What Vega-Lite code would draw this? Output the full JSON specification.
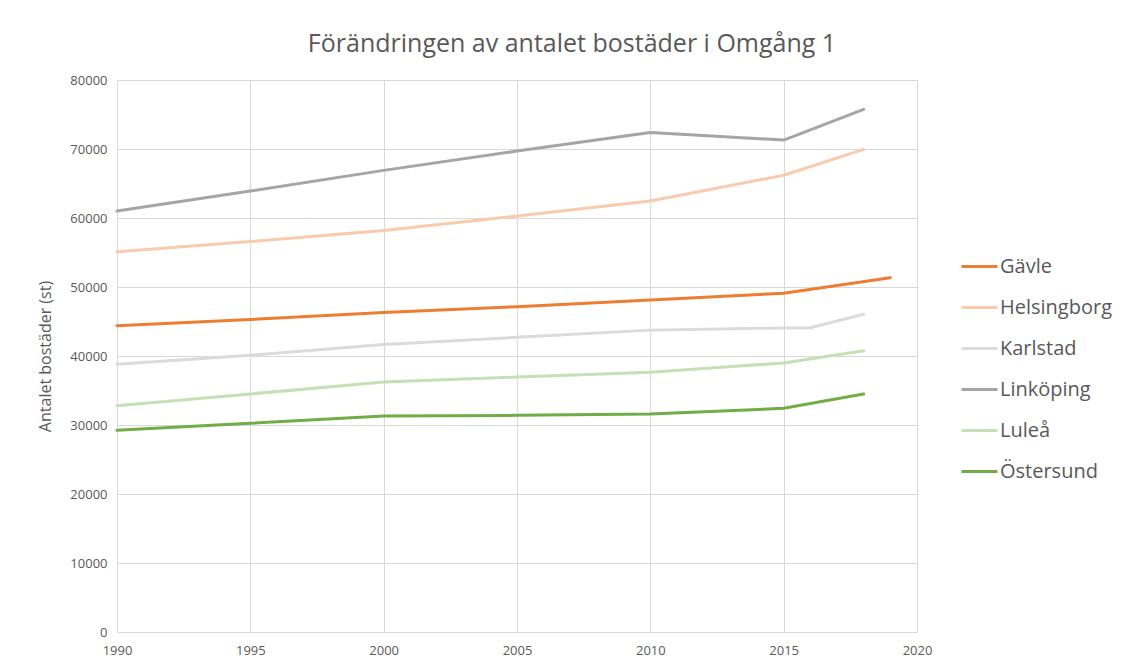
{
  "$schema": "https://vega.github.io/schema/vega-lite/v6.json",
  "autosize": "none",
  "width": 800,
  "height": 552,
  "padding": {"left": 117, "top": 80, "right": 212, "bottom": 36},
  "background": "white",
  "title": {
    "text": "Förändringen av antalet bostäder i Omgång 1",
    "font": "Open Sans",
    "fontSize": 25,
    "fontWeight": "normal",
    "color": "#595959",
    "anchor": "middle",
    "dx": 55,
    "offset": 17
  },
  "config": {
    "view": {"stroke": null},
    "axis": {
      "labelFont": "Open Sans",
      "labelFontSize": 13,
      "labelColor": "#595959",
      "gridColor": "#d9d9d9",
      "gridWidth": 1,
      "domain": false,
      "ticks": false
    }
  },
  "data": {
    "values": [
      {"kommun": "Linköping", "year": 1990, "value": 61000},
      {"kommun": "Linköping", "year": 1995, "value": 63900},
      {"kommun": "Linköping", "year": 2000, "value": 66900},
      {"kommun": "Linköping", "year": 2005, "value": 69700},
      {"kommun": "Linköping", "year": 2010, "value": 72400},
      {"kommun": "Linköping", "year": 2015, "value": 71300},
      {"kommun": "Linköping", "year": 2018, "value": 75750},
      {"kommun": "Helsingborg", "year": 1990, "value": 55100},
      {"kommun": "Helsingborg", "year": 1995, "value": 56600},
      {"kommun": "Helsingborg", "year": 2000, "value": 58200},
      {"kommun": "Helsingborg", "year": 2005, "value": 60300},
      {"kommun": "Helsingborg", "year": 2010, "value": 62450},
      {"kommun": "Helsingborg", "year": 2015, "value": 66200},
      {"kommun": "Helsingborg", "year": 2018, "value": 69950},
      {"kommun": "Gävle", "year": 1990, "value": 44400},
      {"kommun": "Gävle", "year": 1995, "value": 45300},
      {"kommun": "Gävle", "year": 2000, "value": 46300},
      {"kommun": "Gävle", "year": 2005, "value": 47150},
      {"kommun": "Gävle", "year": 2010, "value": 48100},
      {"kommun": "Gävle", "year": 2015, "value": 49100},
      {"kommun": "Gävle", "year": 2019, "value": 51350},
      {"kommun": "Karlstad", "year": 1990, "value": 38800},
      {"kommun": "Karlstad", "year": 1995, "value": 40100},
      {"kommun": "Karlstad", "year": 2000, "value": 41650},
      {"kommun": "Karlstad", "year": 2005, "value": 42700},
      {"kommun": "Karlstad", "year": 2010, "value": 43750},
      {"kommun": "Karlstad", "year": 2015, "value": 44050},
      {"kommun": "Karlstad", "year": 2016, "value": 44100},
      {"kommun": "Karlstad", "year": 2018, "value": 46050},
      {"kommun": "Luleå", "year": 1990, "value": 32800},
      {"kommun": "Luleå", "year": 1995, "value": 34500},
      {"kommun": "Luleå", "year": 2000, "value": 36230},
      {"kommun": "Luleå", "year": 2005, "value": 36950},
      {"kommun": "Luleå", "year": 2010, "value": 37630},
      {"kommun": "Luleå", "year": 2015, "value": 39000},
      {"kommun": "Luleå", "year": 2018, "value": 40770},
      {"kommun": "Östersund", "year": 1990, "value": 29230},
      {"kommun": "Östersund", "year": 1995, "value": 30250},
      {"kommun": "Östersund", "year": 2000, "value": 31300},
      {"kommun": "Östersund", "year": 2005, "value": 31400},
      {"kommun": "Östersund", "year": 2010, "value": 31590},
      {"kommun": "Östersund", "year": 2015, "value": 32420},
      {"kommun": "Östersund", "year": 2018, "value": 34500}
    ]
  },
  "mark": {"type": "line", "strokeWidth": 3, "interpolate": "linear", "strokeJoin": "round", "strokeCap": "round"},
  "encoding": {
    "x": {
      "field": "year",
      "type": "quantitative",
      "scale": {"domain": [1990, 2020], "nice": false, "zero": false},
      "axis": {"title": null, "values": [1990, 1995, 2000, 2005, 2010, 2015, 2020], "format": "d", "labelPadding": 12, "labelFlush": false, "labelBound": false}
    },
    "y": {
      "field": "value",
      "type": "quantitative",
      "scale": {"domain": [0, 80000], "nice": false},
      "axis": {
        "title": "Antalet bostäder (st)",
        "titleFont": "Open Sans",
        "titleFontSize": 16,
        "titleFontWeight": "normal",
        "titleColor": "#595959",
        "titlePadding": 16,
        "values": [0, 10000, 20000, 30000, 40000, 50000, 60000, 70000, 80000],
        "format": "d",
        "labelPadding": 10
      }
    },
    "color": {
      "field": "kommun",
      "type": "nominal",
      "scale": {
        "domain": ["Gävle", "Helsingborg", "Karlstad", "Linköping", "Luleå", "Östersund"],
        "range": ["#ED7D31", "#F8CBAD", "#DBDBDB", "#A5A5A5", "#C5E0B4", "#70AD47"]
      },
      "legend": {
        "title": null,
        "orient": "none",
        "legendX": 843,
        "legendY": 167,
        "symbolType": "stroke",
        "symbolSize": 1296,
        "symbolStrokeWidth": 3,
        "labelFont": "Open Sans",
        "labelFontSize": 20,
        "labelColor": "#595959",
        "labelOffset": 1,
        "rowPadding": 11,
        "labelLimit": 300
      }
    }
  }
}
